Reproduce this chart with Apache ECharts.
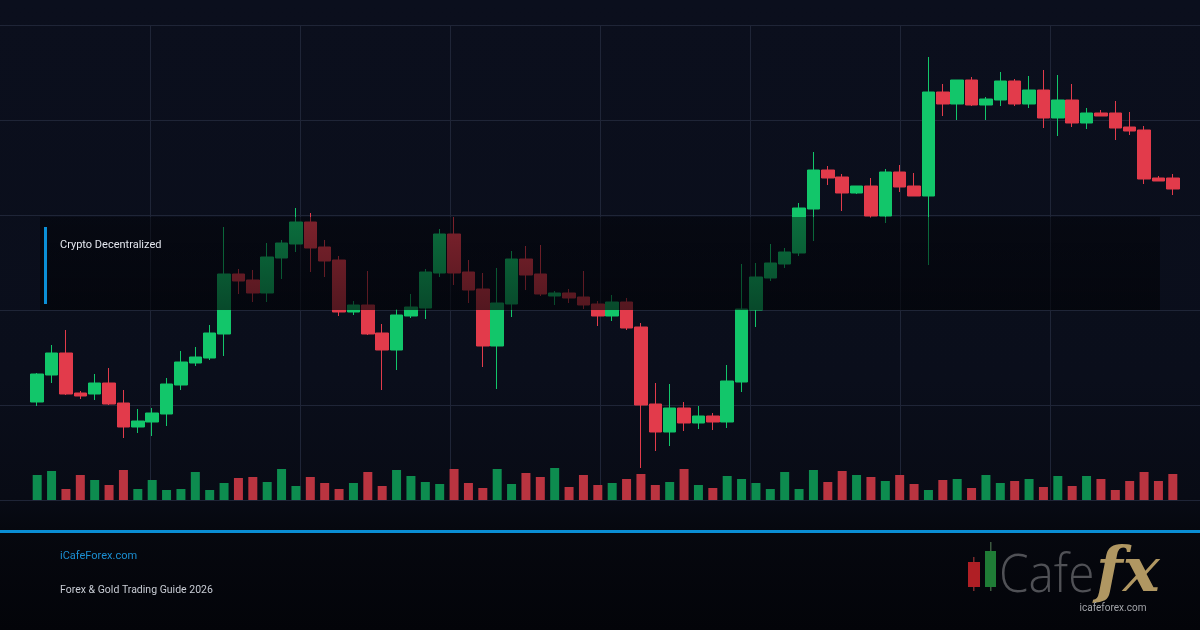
<!DOCTYPE html>
<html>
<head>
<meta charset="utf-8">
<title>Crypto Decentralized</title>
<script src="https://cdn.jsdelivr.net/npm/echarts@6/dist/echarts.min.js"></script>
<style>
  html, body { margin: 0; padding: 0; background: #05070c; }
  #my-charts {
    width: 1200px;
    height: 630px;
    background: linear-gradient(to bottom, #0b0f1d 0%, #0a0e1b 60%, #080b15 79%, #06080f 84%, #030409 100%);
  }
</style>
</head>
<body>
<div id="my-charts"></div>
<script>
// candle data (price units are arbitrary)
var days = [
  '1', '2', '3', '4', '5', '6', '7', '8', '9', '10',
  '11', '12', '13', '14', '15', '16', '17', '18', '19', '20',
  '21', '22', '23', '24', '25', '26', '27', '28', '29', '30',
  '31', '32', '33', '34', '35', '36', '37', '38', '39', '40',
  '41', '42', '43', '44', '45', '46', '47', '48', '49', '50',
  '51', '52', '53', '54', '55', '56', '57', '58', '59', '60',
  '61', '62', '63', '64', '65', '66', '67', '68', '69', '70',
  '71', '72', '73', '74', '75', '76', '77', '78', '79', '80'
]
var opens = [
  98, 125, 147, 107, 106, 117, 97, 73, 78, 86,
  115, 137, 142, 166, 226, 220, 207, 242, 256, 278,
  253, 240, 188, 195, 167, 150, 184, 192, 227, 266,
  228, 211, 154, 196, 241, 226, 204, 207, 203, 196,
  184, 198, 173, 96, 68, 92, 77, 84, 78, 118,
  190, 222, 236, 247, 291, 330, 323, 307, 314, 284,
  328, 314, 304, 408, 396, 420, 395, 400, 419, 396,
  410, 382, 400, 377, 387, 387, 373, 370, 322, 322
]
var closes = [
  126, 147, 106, 104, 117, 96, 73, 79, 87, 116,
  138, 143, 167, 226, 219, 207, 243, 257, 278, 252,
  239, 188, 195, 166, 150, 185, 193, 228, 266, 227,
  210, 154, 197, 241, 225, 206, 207, 202, 195, 184,
  198, 172, 95, 68, 92, 77, 84, 78, 119, 191,
  223, 237, 248, 292, 330, 322, 307, 314, 284, 328,
  313, 304, 408, 396, 420, 395, 401, 419, 396, 410,
  382, 400, 377, 387, 384, 372, 369, 321, 319, 311
]
var highs = [
  127, 155, 170, 109, 126, 132, 110, 91, 92, 122,
  149, 153, 175, 273, 231, 230, 257, 260, 292, 287,
  260, 244, 199, 229, 176, 191, 206, 231, 271, 283,
  240, 227, 232, 249, 254, 255, 209, 211, 229, 199,
  205, 202, 177, 117, 116, 98, 94, 87, 135, 236,
  237, 256, 252, 297, 348, 334, 326, 314, 322, 331,
  335, 327, 443, 416, 420, 423, 403, 428, 421, 424,
  430, 425, 416, 392, 390, 399, 388, 374, 324, 326
]
var lows = [
  94, 117, 105, 101, 100, 95, 62, 67, 64, 74,
  110, 134, 140, 144, 206, 198, 198, 221, 248, 228,
  223, 184, 185, 165, 110, 130, 182, 181, 223, 215,
  197, 133, 111, 183, 210, 204, 195, 197, 191, 174,
  179, 170, 32, 49, 54, 69, 71, 70, 72, 108,
  173, 219, 232, 244, 259, 315, 289, 306, 282, 277,
  308, 304, 235, 384, 380, 394, 380, 394, 394, 392,
  372, 364, 373, 371, 384, 360, 365, 316, 319, 305
]
var volumes = [
  25, 29, 11, 25, 20, 15, 30, 11, 20, 10,
  11, 28, 10, 17, 22, 23, 18, 31, 14, 23,
  17, 11, 17, 28, 14, 30, 24, 18, 16, 31,
  17, 12, 31, 16, 27, 23, 32, 13, 25, 15,
  17, 21, 26, 15, 18, 31, 15, 12, 24, 21,
  17, 11, 28, 11, 30, 18, 29, 25, 23, 19,
  25, 16, 10, 20, 21, 12, 25, 17, 19, 21,
  13, 24, 14, 24, 21, 10, 19, 28, 19, 26
]

var upColor = '#12c66a'
var downColor = '#e23b4b'
var volUp = '#0d8c4f'
var volDown = '#ba3440'
var gridColor = '#1f2537'
var textFont = 'Roboto, "Liberation Sans", Arial, sans-serif'

var myChart = echarts.init(document.getElementById('my-charts'))

var candleData = days.map(function (d, i) {
  return [opens[i], closes[i], lows[i], highs[i]]
})
var volumeData = volumes.map(function (v, i) {
  return { value: v, itemStyle: { color: closes[i] >= opens[i] ? volUp : volDown } }
})

var hidden = { show: false }

var option = {
  animation: false,
  backgroundColor: 'transparent',
  grid: [
    { left: 0, right: 0, top: 25, height: 475 },
    { left: 30, right: 20, top: 25, height: 475 },
    { left: 30, right: 20, top: 465, height: 35 }
  ],
  xAxis: [
    {
      type: 'value', gridIndex: 0, min: 0, max: 8, interval: 1,
      axisLine: hidden, axisTick: hidden, axisLabel: hidden,
      splitLine: { show: true, showMinLine: false, showMaxLine: false, lineStyle: { color: gridColor, width: 1 } }
    },
    { type: 'category', gridIndex: 1, data: days, show: false },
    { type: 'category', gridIndex: 2, data: days, show: false }
  ],
  yAxis: [
    {
      type: 'value', gridIndex: 0, min: 0, max: 5, interval: 1,
      axisLine: hidden, axisTick: hidden, axisLabel: hidden,
      splitLine: { show: true, lineStyle: { color: gridColor, width: 1 } }
    },
    { type: 'value', gridIndex: 1, min: 0, max: 475, show: false, splitLine: hidden },
    { type: 'value', gridIndex: 2, min: 0, max: 35, show: false, splitLine: hidden }
  ],
  series: [
    {
      name: 'price',
      type: 'candlestick',
      xAxisIndex: 1,
      yAxisIndex: 1,
      barWidth: 13,
      data: candleData,
      itemStyle: {
        color: upColor,
        color0: downColor,
        borderColor: upColor,
        borderColor0: downColor,
        borderWidth: 1
      }
    },
    {
      name: 'volume',
      type: 'bar',
      xAxisIndex: 2,
      yAxisIndex: 2,
      barWidth: 9,
      data: volumeData
    }
  ],
  graphic: [
    // dark caption panel sitting over the candles
    {
      type: 'rect', z: 100,
      shape: { x: 40, y: 217, width: 1120, height: 93 },
      style: {
        fill: {
          type: 'linear', x: 0, y: 0, x2: 0, y2: 1,
          colorStops: [
            { offset: 0, color: 'rgba(2,3,7,0.45)' },
            { offset: 1, color: 'rgba(2,3,7,0.64)' }
          ]
        }
      }
    },
    { type: 'rect', z: 101, shape: { x: 44, y: 227, width: 3, height: 77 }, style: { fill: '#0b8fd6' } },
    {
      type: 'text', z: 101, x: 60, y: 245,
      style: { text: 'Crypto Decentralized', font: '11px ' + textFont, fill: '#e3e6ee', verticalAlign: 'middle' }
    },
    // footer
    { type: 'rect', z: 101, shape: { x: 0, y: 530, width: 1200, height: 3 }, style: { fill: '#0a8ed4' } },
    {
      type: 'text', z: 101, x: 60, y: 556,
      style: { text: 'iCafeForex.com', font: '11px ' + textFont, fill: '#1b8fd2', verticalAlign: 'middle' }
    },
    {
      type: 'text', z: 101, x: 60, y: 590, scaleX: 0.955,
      style: { text: 'Forex & Gold Trading Guide 2026', font: '11px ' + textFont, fill: '#c9cdd5', verticalAlign: 'middle' }
    },
    // logo
    { type: 'rect', z: 101, shape: { x: 973, y: 557, width: 1.5, height: 34 }, style: { fill: '#7a2a2c' } },
    { type: 'rect', z: 102, shape: { x: 968, y: 562, width: 12, height: 25 }, style: { fill: '#b01f25' } },
    { type: 'rect', z: 101, shape: { x: 990, y: 542, width: 1.5, height: 49 }, style: { fill: '#3d5a40' } },
    { type: 'rect', z: 102, shape: { x: 985, y: 551, width: 11, height: 36 }, style: { fill: '#1f7c36' } },
    {
      type: 'text', z: 101, x: 999, y: 603, scaleX: 0.9,
      style: { text: 'Cafe', font: '300 53px "Open Sans", Lato, sans-serif', fill: '#505156', verticalAlign: 'bottom' }
    },
    {
      type: 'text', z: 102, x: 1096, y: 606,
      style: {
        text: 'fx', font: 'italic bold 62px "DejaVu Serif", "Liberation Serif", serif',
        fill: '#b09762',
        verticalAlign: 'bottom'
      }
    },
    {
      type: 'text', z: 103, x: 1113, y: 608,
      style: { text: 'icafeforex.com', font: '10px ' + textFont, fill: '#a3a5aa', align: 'center', verticalAlign: 'middle' }
    }
  ]
}

myChart.setOption(option)
myChart.resize()
</script>
</body>
</html>
